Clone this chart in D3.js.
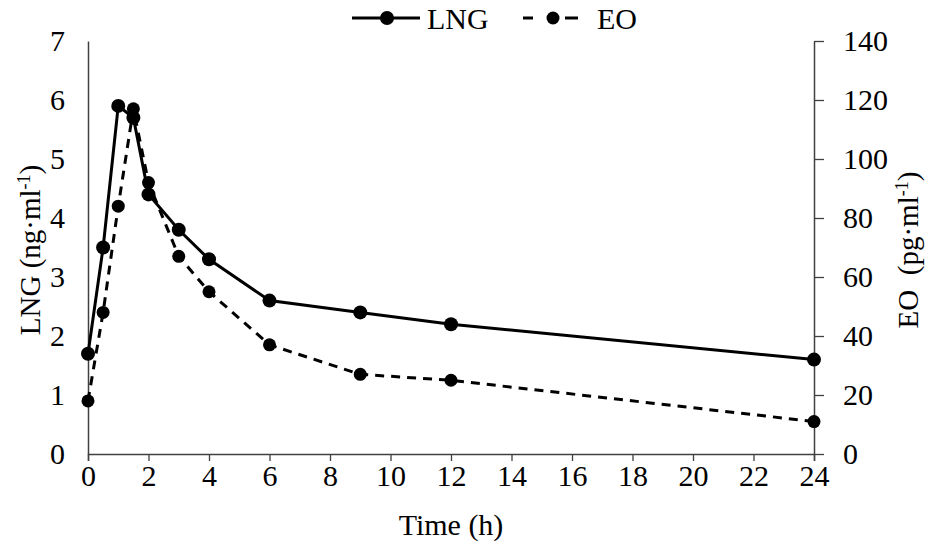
<!DOCTYPE html>
<html>
<head>
<meta charset="utf-8">
<script src="https://cdn.jsdelivr.net/npm/d3@7"></script>
<style>
  body { margin: 0; background: #fff; }
</style>
</head>
<body>
<div id="chart"></div>
<script>
// sampling times (h)
const times = [0, 0.5, 1, 1.5, 2, 3, 4, 6, 9, 12, 24]
// LNG (ng/ml), left axis
const lngValues = [1.7, 3.5, 5.9, 5.7, 4.4, 3.8, 3.3, 2.6, 2.4, 2.2, 1.6]
// EO (pg/ml), right axis
const eoValues = [18, 48, 84, 117, 92, 67, 55, 37, 27, 25, 11]

const xTicks = d3.range(0, 25, 2)
const leftTicks = d3.range(0, 8, 1)
const rightTicks = d3.range(0, 141, 20)

const width = 927
const height = 544
const plotLeft = 88, plotRight = 814, plotTop = 41, plotBottom = 454
const serif = "'Liberation Serif', 'Times New Roman', serif"
const fs = 30

const svg = d3.select("#chart")
    .append("svg")
    .attr("width", width)
    .attr("height", height)
    .attr("font-family", serif)

const x = d3.scaleLinear().domain([0, 24]).range([plotLeft, plotRight])
const yL = d3.scaleLinear().domain([0, 7]).range([plotBottom, plotTop])
const yR = d3.scaleLinear().domain([0, 140]).range([plotBottom, plotTop])

const axisColor = "#404040"

// put tick labels in the serif face at the reference size
function styleLabels(g) {
    g.attr("font-family", serif).attr("font-size", fs)
    g.selectAll("text").attr("fill", "#000")
}

// x axis
const gx = svg.append("g")
    .attr("transform", "translate(0," + plotBottom + ")")
    .call(d3.axisBottom(x).tickValues(xTicks).tickFormat(d3.format("d")).tickSize(7).tickPadding(4))
gx.select(".domain").attr("stroke", axisColor).attr("stroke-width", 1.5)
gx.selectAll(".tick line").attr("stroke", axisColor).attr("stroke-width", 1.3)
styleLabels(gx)

// left axis, no tick marks
const gl = svg.append("g")
    .attr("transform", "translate(" + plotLeft + ",0)")
    .call(d3.axisLeft(yL).tickValues(leftTicks).tickFormat(d3.format("d")).tickSize(0).tickPadding(23).tickSizeOuter(0))
gl.select(".domain").attr("stroke", axisColor).attr("stroke-width", 1.5)
styleLabels(gl)

// right axis, ticks pointing outward
const gr = svg.append("g")
    .attr("transform", "translate(" + plotRight + ",0)")
    .call(d3.axisRight(yR).tickValues(rightTicks).tickFormat(d3.format("d")).tickSize(10).tickPadding(19).tickSizeOuter(0))
gr.select(".domain").attr("stroke", axisColor).attr("stroke-width", 1.5)
gr.selectAll(".tick line").attr("stroke", axisColor).attr("stroke-width", 1.3)
styleLabels(gr)

// axis titles
svg.append("text")
    .attr("x", 451)
    .attr("y", 535)
    .attr("text-anchor", "middle")
    .attr("font-size", fs)
    .text("Time (h)")

const lt = svg.append("text")
    .attr("transform", "translate(40,250) rotate(-90)")
    .attr("text-anchor", "middle")
    .attr("font-size", 29)
lt.append("tspan").text("LNG (ng·ml")
lt.append("tspan").attr("dy", -10).attr("font-size", 18).text("-1")
lt.append("tspan").attr("dy", 10).text(")")

const rt = svg.append("text")
    .attr("transform", "translate(918,250) rotate(-90)")
    .attr("text-anchor", "middle")
    .attr("font-size", 29)
rt.append("tspan").text("EO\u00a0 (pg·ml")
rt.append("tspan").attr("dy", -10).attr("font-size", 18).text("-1")
rt.append("tspan").attr("dy", 10).text(")")

// series
const lngData = times.map((t, i) => ({t: t, v: lngValues[i]}))
const eoData = times.map((t, i) => ({t: t, v: eoValues[i]}))

const lineL = d3.line().x(d => x(d.t)).y(d => yL(d.v))
const lineR = d3.line().x(d => x(d.t)).y(d => yR(d.v))

svg.append("path")
    .datum(eoData)
    .attr("d", lineR)
    .attr("fill", "none")
    .attr("stroke", "#000")
    .attr("stroke-width", 3)
    .attr("stroke-dasharray", "9,7")

svg.append("path")
    .datum(lngData)
    .attr("d", lineL)
    .attr("fill", "none")
    .attr("stroke", "#000")
    .attr("stroke-width", 3)

svg.selectAll(".eoDot")
    .data(eoData)
    .enter()
    .append("circle")
    .attr("class", "eoDot")
    .attr("cx", d => x(d.t))
    .attr("cy", d => yR(d.v))
    .attr("r", 6.5)
    .attr("fill", "#000")

svg.selectAll(".lngDot")
    .data(lngData)
    .enter()
    .append("circle")
    .attr("class", "lngDot")
    .attr("cx", d => x(d.t))
    .attr("cy", d => yL(d.v))
    .attr("r", 7)
    .attr("fill", "#000")

// legend
const legend = svg.append("g").attr("transform", "translate(0,18)")
legend.append("line").attr("x1", 352).attr("x2", 420).attr("y1", 0).attr("y2", 0)
    .attr("stroke", "#000").attr("stroke-width", 3)
legend.append("circle").attr("cx", 387).attr("cy", 0).attr("r", 7).attr("fill", "#000")
legend.append("text").attr("x", 427).attr("y", 0).attr("dy", "0.35em")
    .attr("font-size", fs).text("LNG")

legend.append("line").attr("x1", 523).attr("x2", 578).attr("y1", 0).attr("y2", 0)
    .attr("stroke", "#000").attr("stroke-width", 3).attr("stroke-dasharray", "10,32,13")
legend.append("circle").attr("cx", 553).attr("cy", 0).attr("r", 6.5).attr("fill", "#000")
legend.append("text").attr("x", 597).attr("y", 0).attr("dy", "0.35em")
    .attr("font-size", fs).text("EO")
</script>
</body>
</html>
